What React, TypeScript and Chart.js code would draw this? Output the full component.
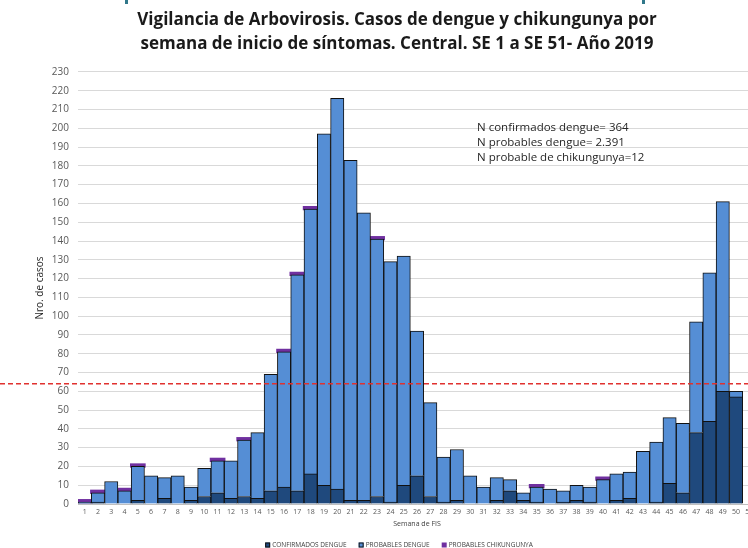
import { useEffect, useRef } from 'react';
import { Chart, registerables } from 'chart.js';
Chart.register(...registerables);

const weeks = ['1','2','3','4','5','6','7','8','9','10','11','12','13','14','15','16','17','18','19','20','21','22','23','24','25','26','27','28','29','30','31','32','33','34','35','36','37','38','39','40','41','42','43','44','45','46','47','48','49','50','51'];
const confirmados = [0,1,0,0,2,0,3,0,2,4,6,3,4,3,7,9,7,16,10,8,2,2,4,1,10,15,4,1,2,0,0,2,7,2,1,0,1,2,1,0,2,3,0,1,11,6,38,44,60,57,0];
const probables = [1,5,12,7,18,15,11,15,7,15,17,20,30,35,62,72,115,141,187,208,181,153,137,128,122,77,50,24,27,15,9,12,6,4,8,8,6,8,8,13,14,14,28,32,35,37,59,79,101,3,0];
const chikungunya = [1,1,0,1,1,0,0,0,0,0,1,0,1,0,0,1,1,1,0,0,0,0,1,0,0,0,0,0,0,0,0,0,0,0,1,0,0,0,0,1,0,0,0,0,0,0,0,0,0,0,0];
const umbral = 64;
const yTicks = [0,10,20,30,40,50,60,70,80,90,100,110,120,130,140,150,160,170,180,190,200,210,220,230];
const titleLines = ['Vigilancia de Arbovirosis. Casos de dengue y chikungunya por', 'semana de inicio de síntomas. Central. SE 1 a SE 51- Año 2019'];
const notes = ['N confirmados dengue= 364', 'N probables dengue= 2.391', 'N probable de chikungunya=12'];
const seriesNames = ['CONFIRMADOS DENGUE', 'PROBABLES DENGUE', 'PROBABLES CHIKUNGUNYA'];

const FONT = "'Open Sans', 'DejaVu Sans', sans-serif";

export default function App() {
  const ref = useRef<HTMLCanvasElement>(null);
  useEffect(() => {
    if (!ref.current) return;
    const thresholdPlugin = {
      id: 'threshold',
      afterDatasetsDraw(chart: any) {
        const { ctx } = chart;
        const py = chart.scales.y.getPixelForValue(umbral);
        ctx.save();
        ctx.strokeStyle = '#e0312f';
        ctx.lineWidth = 1.5;
        ctx.setLineDash([5, 3]);
        ctx.beginPath();
        ctx.moveTo(0, py);
        ctx.lineTo(chart.width, py);
        ctx.stroke();
        ctx.restore();
      },
    };
    const notesPlugin = {
      id: 'notes',
      afterDraw(chart: any) {
        const { ctx, chartArea } = chart;
        ctx.save();
        ctx.font = `11.5px ${FONT}`;
        ctx.fillStyle = '#262626';
        ctx.textAlign = 'left';
        ctx.textBaseline = 'middle';
        notes.forEach((t, i) => {
          ctx.fillText(t, chartArea.left + 399, 128 + i * 15);
        });
        ctx.restore();
      },
    };
    const legendPlugin = {
      id: 'bottomLegend',
      afterDraw(chart: any) {
        const { ctx } = chart;
        const box = 5;
        const gapText = 2;
        const gapItem = 12;
        const cy = 545;
        ctx.save();
        ctx.font = `6.5px ${FONT}`;
        ctx.textBaseline = 'middle';
        ctx.textAlign = 'left';
        const items = chart.data.datasets.map((ds: any) => ({
          text: ds.label,
          fill: ds.backgroundColor,
          stroke: ds.borderWidth ? ds.borderColor : null,
          w: box + gapText + ctx.measureText(ds.label).width,
        }));
        const total = items.reduce((s: number, it: any) => s + it.w, 0) + gapItem * (items.length - 1);
        let x = 399 - total / 2;
        items.forEach((it: any) => {
          ctx.fillStyle = it.fill;
          ctx.fillRect(x, cy - box / 2, box, box);
          if (it.stroke) {
            ctx.strokeStyle = it.stroke;
            ctx.lineWidth = 1;
            ctx.strokeRect(x + 0.5, cy - box / 2 + 0.5, box - 1, box - 1);
          }
          ctx.fillStyle = '#404040';
          ctx.fillText(it.text, x + box + gapText, cy);
          x += it.w + gapItem;
        });
        ctx.restore();
      },
    };
    const chart = new Chart(ref.current, {
      type: 'bar',
      data: {
        labels: weeks,
        datasets: [
          {
            label: seriesNames[0],
            data: confirmados,
            backgroundColor: '#1f497d',
            borderColor: '#111111',
            borderWidth: 1,
            stack: 's',
          },
          {
            label: seriesNames[1],
            data: probables,
            backgroundColor: '#558ed5',
            borderColor: '#111111',
            borderWidth: 1,
            stack: 's',
          },
          {
            label: seriesNames[2],
            data: chikungunya.map((v) => (v === 0 ? null : v)),
            backgroundColor: '#7030a0',
            borderColor: '#7030a0',
            borderWidth: 0,
            inflateAmount: 1.2,
            stack: 's',
          } as any,
        ],
      },
      options: {
        responsive: false,
        animation: false,
        devicePixelRatio: 1,
        datasets: { bar: { barPercentage: 1, categoryPercentage: 1 } },
        layout: { padding: { left: 0, right: 0, top: 0, bottom: 8 } },
        plugins: {
          tooltip: { enabled: false },
          legend: { display: false },
          title: {
            display: true,
            text: titleLines,
            color: '#1a1a1a',
            font: { family: FONT, size: 17, weight: 'bold', lineHeight: 1.41 },
            padding: { top: 8, bottom: 16 },
          },
        },
        scales: {
          x: {
            stacked: true,
            afterFit: (s: any) => {
              s.height = 36;
            },
            grid: { display: false, drawTicks: false },
            border: { display: true, color: '#bfbfbf' },
            ticks: {
              autoSkip: false,
              maxRotation: 0,
              padding: 4,
              color: '#595959',
              font: { family: FONT, size: 7 },
            },
            title: {
              display: true,
              text: 'Semana de FIS',
              color: '#404040',
              font: { family: FONT, size: 7 },
              padding: { top: 2, bottom: 12 },
            },
          },
          y: {
            stacked: true,
            min: 0,
            max: 230,
            afterBuildTicks: (s: any) => {
              s.ticks = yTicks.map((v) => ({ value: v }));
            },
            afterFit: (s: any) => {
              s.width = 78;
            },
            grid: { color: '#d9d9d9', drawTicks: false },
            border: { display: false },
            ticks: {
              padding: 9,
              color: '#595959',
              font: { family: FONT, size: 10 },
            },
            title: {
              display: true,
              text: 'Nro. de casos',
              color: '#262626',
              font: { family: FONT, size: 10 },
              padding: { top: 34, bottom: 0 },
            },
          },
          yRight: {
            type: 'linear',
            position: 'right',
            display: true,
            afterFit: (s: any) => {
              s.width = 38;
            },
            grid: { display: false, drawTicks: false },
            border: { display: false },
            ticks: { display: false },
          },
        },
      },
      plugins: [thresholdPlugin, notesPlugin, legendPlugin],
    });
    return () => chart.destroy();
  }, []);
  return (
    <div style={{ position: 'absolute', left: 0, top: 0, width: 748, height: 548, overflow: 'hidden', background: '#ffffff' }}>
      <canvas ref={ref} width={794} height={548} style={{ display: 'block' }} />
      <div style={{ position: 'absolute', left: 125, top: 0, width: 3, height: 4, background: '#31788a' }} />
      <div style={{ position: 'absolute', left: 642, top: 0, width: 3, height: 4, background: '#31788a' }} />
    </div>
  );
}
